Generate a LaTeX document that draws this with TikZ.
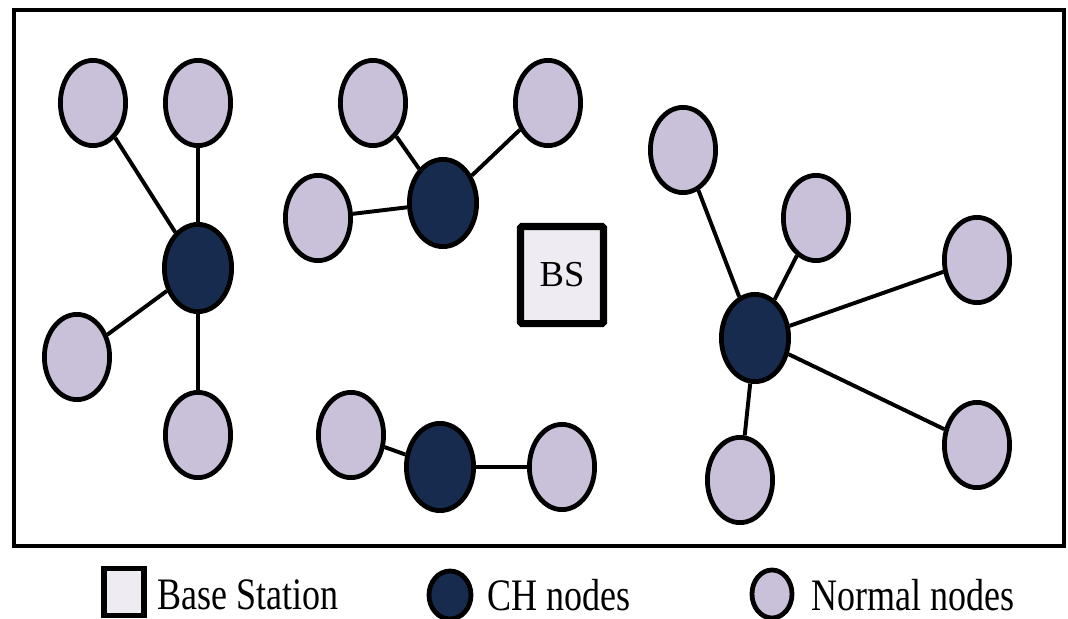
\documentclass[tikz,border=0pt]{standalone}
\usepackage{fontspec}
\setmainfont{Liberation Serif}
\usetikzlibrary{shapes.geometric}
\definecolor{normalfill}{HTML}{C9C0D9}
\definecolor{headfill}{HTML}{162B4D}
\definecolor{bsfill}{HTML}{EEEBF3}
\tikzset{normal/.style={ellipse,draw,line width=3.4pt,fill=normalfill,minimum width=1.63cm,minimum height=2.13cm,inner sep=0pt},
         head/.style={ellipse,draw,line width=3.4pt,fill=headfill,minimum width=1.68cm,minimum height=2.18cm,inner sep=0pt},
         station/.style={rectangle,draw,line width=5pt,fill=bsfill,rounded corners=1pt,minimum width=2.075cm,minimum height=2.425cm,font=\fontsize{26}{30}\selectfont},
         link/.style={line width=2.8pt},
         legtext/.style={anchor=west,inner sep=0pt,font=\fontsize{32}{36}\selectfont},
        }

\begin{document}
\begin{tikzpicture}[x=0.025cm,y=-0.025cm]
        \useasboundingbox (0,0) rectangle (1068,619);
        \draw[line width=3.5pt](14,10) rectangle (1064,546);
        % left cluster
        \node[head](ch1)at(198,268){};
        \node[normal](n1)at(93,103){};
        \node[normal](n2)at(198,103){};
        \node[normal](n3)at(77,357){};
        \node[normal](n4)at(198,435){};
        % upper middle cluster
        \node[head](ch2)at(443,203){};
        \node[normal](n5)at(373,103){};
        \node[normal](n6)at(548,103){};
        \node[normal](n7)at(318,218){};
        % lower middle cluster
        \node[head](ch3)at(440,467){};
        \node[normal](n8)at(351,435){};
        \node[normal](n9)at(562,467){};
        % right cluster
        \node[head](ch4)at(755,338){};
        \node[normal](n10)at(683,150){};
        \node[normal](n11)at(816,218){};
        \node[normal](n12)at(977,260){};
        \node[normal](n13)at(977,445){};
        \node[normal](n14)at(740,480){};
        \node[station](bs)at(562,275){BS};
        \draw[link](ch1)--(n1);
        \draw[link](ch1)--(n2);
        \draw[link](ch1)--(n3);
        \draw[link](ch1)--(n4);
        \draw[link](ch2)--(n5);
        \draw[link](ch2)--(n6);
        \draw[link](ch2)--(n7);
        \draw[link](ch3)--(n8);
        \draw[link](ch3)--(n9);
        \draw[link](ch4)--(n10);
        \draw[link](ch4)--(n11);
        \draw[link](ch4)--(n12);
        \draw[link](ch4)--(n13);
        \draw[link](ch4)--(n14);
        % legend
        \node[station,minimum width=1cm,minimum height=1.18cm,line width=4pt,rounded corners=0pt](legbs)at(124,592){};
        \node[legtext](legbstxt)at(157,595){\scalebox{0.8}[1]{Base Station}};
        \node[head,minimum width=1.05cm,minimum height=1.2cm](legch)at(450,595){};
        \node[legtext](legchtxt)at(487,595){\scalebox{0.8}[1]{CH nodes}};
        \node[normal,minimum width=1.0cm,minimum height=1.2cm](legnormal)at(772,594){};
        \node[legtext](legnormaltxt)at(811,595){\scalebox{0.8}[1]{Normal nodes}};
    \end{tikzpicture}
\end{document}
